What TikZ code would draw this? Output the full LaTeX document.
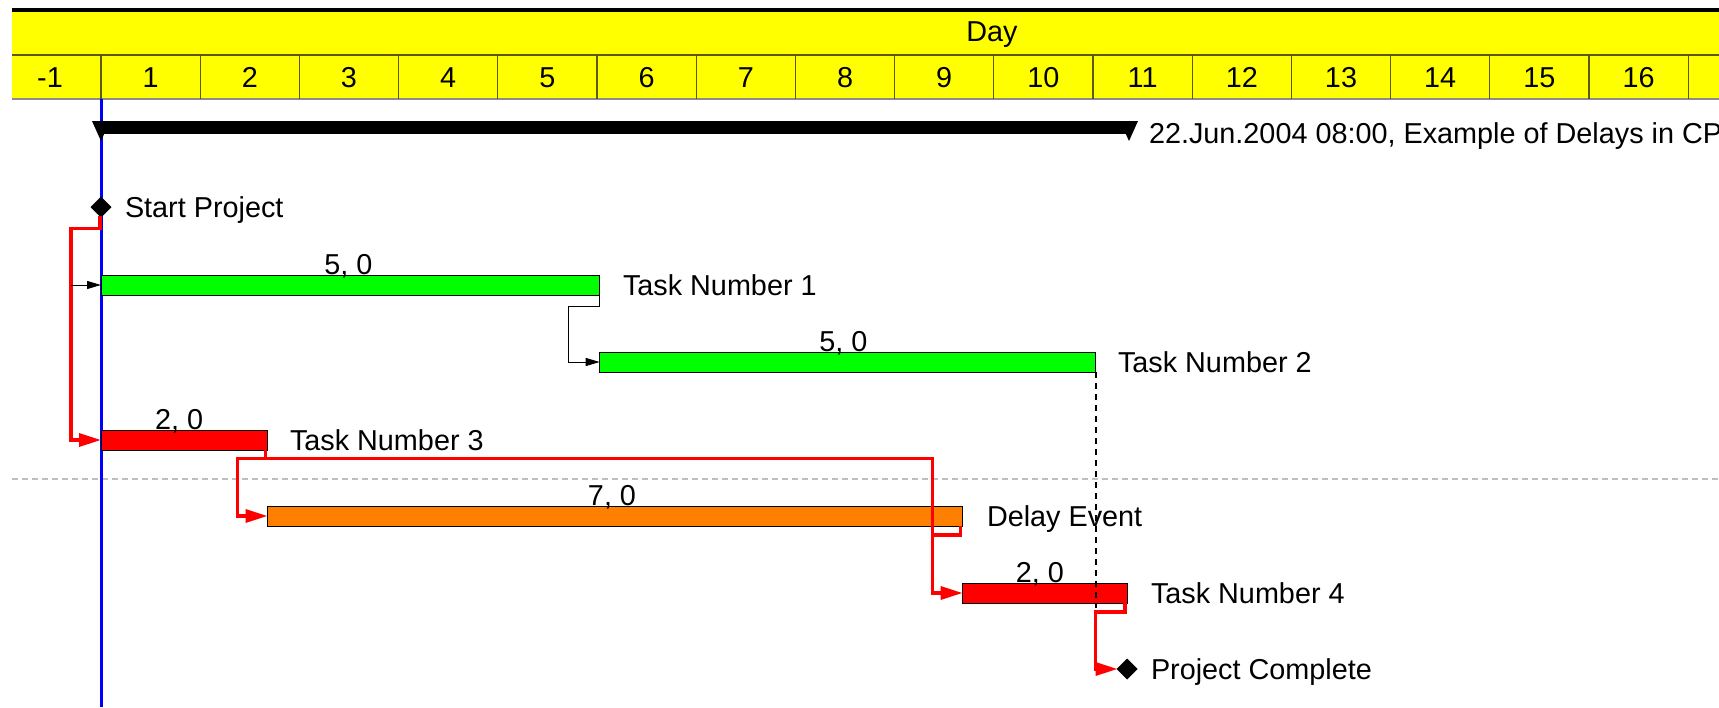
\documentclass[tikz,border=0pt]{standalone}
\usepackage{fontspec}
\setmainfont{Liberation Sans}
\usetikzlibrary{shapes.geometric,arrows.meta,calc}
\definecolor{ganttgreen}{RGB}{0,255,0}
\definecolor{ganttred}{RGB}{255,0,0}
\definecolor{ganttorange}{RGB}{255,128,0}
\definecolor{hdryellow}{RGB}{255,255,0}
\definecolor{gridline}{RGB}{90,90,0}
\begin{document}
\begin{tikzpicture}[x=0.5pt,y=-0.5pt,
  every node/.style={font=\fontsize{14.4}{16}\selectfont, inner sep=0pt, outer sep=0pt},
  txt/.style={text height=10.3pt, text depth=0pt},
  lbl/.style={txt, anchor=west},
  dur/.style={txt, anchor=south},
  bar/.style={draw=black, line width=0.5pt, minimum height=10pt, anchor=west},
  crit/.style={draw=ganttred, line width=1.7pt},
  critarr/.style={crit, -{Triangle[length=11pt,width=6.5pt]}},
  thinarr/.style={draw=black, line width=0.5pt, -{Triangle[length=7pt,width=4pt]}},
  mile/.style={diamond, fill=black, minimum width=10.5pt, minimum height=10.5pt}
]
\useasboundingbox (0,0) rectangle (1719,707);
\clip (0,0) rectangle (1719,707);
% header
\fill[hdryellow] (12,10) rectangle (1719,99);
\draw[gridline, line width=0.6pt] (12,55) -- (1719,55);
\draw[black!45, line width=0.8pt] (12,99) -- (1719,99);
\foreach \k in {0,...,16} \draw[gridline, line width=0.6pt] ({101+99.2*\k},55) -- ({101+99.2*\k},99);
\draw[line width=1.6pt] (12,10) -- (1719,10);
\node[txt] (day) at (992,31) {Day};
\node[txt] (dm1) at (50,77) {-1};
\foreach \d in {1,...,16} \node[txt] (d\d) at ({101+99.2*(\d-1)+49.6},77) {\d};
% separator
\draw[black!25, line width=1pt, dash pattern=on 3pt off 2pt] (12,479) -- (1719,479);
% status line
\draw[blue, line width=1.5pt] (101,99) -- (101,707);
% summary bar
\fill (101,121) rectangle (1129,134);
\fill (92,121) -- (110,121) -- (101,141) -- cycle;
\fill (1120,121) -- (1138,121) -- (1129,141) -- cycle;
\node[lbl] (sum) at (1149,133) {22.Jun.2004 08:00, Example of Delays in CP};
% bars
\node[bar, fill=ganttgreen, minimum width=249.35pt] (t1) at (101,285) {};
\node[bar, fill=ganttgreen, minimum width=247.65pt] (t2) at (599.7,362) {};
\node[bar, fill=ganttred, minimum width=83.25pt] (t3) at (101,440) {};
\node[bar, fill=ganttorange, minimum width=347.5pt] (de) at (267.5,516) {};
\node[bar, fill=ganttred, minimum width=82.2pt] (t4) at (962.6,593) {};
% milestones
\node[mile] (sp) at (101,207) {};
\node[mile] (pc) at (1127,669) {};
% connectors
\draw[critarr] ($(sp.south)+(-1,-2)$) -- ++(0,13) -| ($(t3.west)+(-30,0)$) -- (t3.west);
\draw[thinarr] ($(t1.west)+(-30,0)$) -- (t1.west);
\draw[thinarr] (t1.south east) -- ++(0,11) -| ($(t2.west)+(-31,0)$) -- (t2.west);
\draw[critarr] ($(t3.south east)+(-2,0)$) -- ++(0,8.5) -| ($(de.west)+(-30,0)$) -- (de.west);
\draw[critarr] ($(t3.south east)+(-2,8.5)$) -| ($(t4.west)+(-30,0)$) -- (t4.west);
\draw[crit] ($(de.south east)+(-2,0)$) -- ++(0,9) -| ($(t4.west)+(-30,-20)$);
\draw[black, line width=0.8pt, dash pattern=on 3pt off 2.5pt] ($(t2.south east)+(1,0)$) -- ++(0,236);
\draw[critarr] ($(t4.south east)+(-2,0)$) -- ++(0,9) -| ($(pc.west)+(-21,0)$) -- ($(pc.west)+(1,0)$);
% labels
\node[lbl] (lsp) at (125,207) {Start Project};
\node[lbl] (lt1) at (623,285) {Task Number 1};
\node[lbl] (lt2) at (1118,362) {Task Number 2};
\node[lbl] (lt3) at (290,440) {Task Number 3};
\node[lbl] (lde) at (987,516) {Delay Event};
\node[lbl] (lt4) at (1151,593) {Task Number 4};
\node[lbl] (lpc) at (1151,669) {Project Complete};
\node[dur] at ($(t1.north)+(-2,-1)$) {5, 0};
\node[dur] at ($(t2.north)+(-4,-1)$) {5, 0};
\node[dur] at ($(t3.north)+(-5,-1)$) {2, 0};
\node[dur] at ($(de.north)+(-3,-1)$) {7, 0};
\node[dur] at ($(t4.north)+(-5,-1)$) {2, 0};
\end{tikzpicture}
\end{document}
